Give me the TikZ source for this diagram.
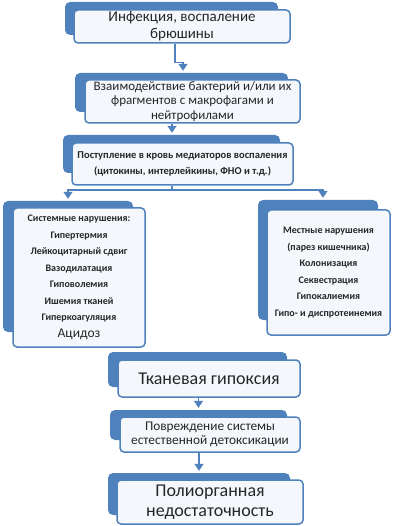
\documentclass[tikz,border=0pt]{standalone}
\usepackage{fontspec}
\setmainfont{Carlito}
\usetikzlibrary{arrows.meta, positioning}
\definecolor{tabblue}{HTML}{4F81BD}
\definecolor{cardfill}{HTML}{F4F7FB}

\begin{document}
\begin{tikzpicture}[x=1pt, y=-1pt, >={Triangle[width=9pt,length=7pt]},
  tab/.style={fill=tabblue, rounded corners=5pt, inner sep=0pt},
  card/.style={draw=tabblue, fill=cardfill, line width=1.5pt, rounded corners=4pt, inner sep=0pt, align=center, text=black!85},
  link/.style={draw=tabblue, line width=1.5pt, ->, shorten >=2pt},
  wire/.style={draw=tabblue, line width=1.5pt}]
\useasboundingbox (0,0) rectangle (404,526);
% Level 1: infection
\node[tab, minimum width=213pt, minimum height=33pt] (t1) at (171.5,18.5) {};
\node[card, minimum width=216pt, minimum height=33pt, font=\fontsize{15}{17}\selectfont] (b1) at (182,26.5) {Инфекция, воспаление\\брюшины};
% Level 2: interaction
\node[tab, minimum width=213pt, minimum height=39pt] (t2) at (181.5,92.5) {};
\node[card, minimum width=215pt, minimum height=43pt, font=\fontsize{13}{14.5}\selectfont] (b2) at (192.5,101.5) {Взаимодействие бактерий и/или их\\фрагментов с макрофагами и\\нейтрофилами};
% Level 3: mediators
\node[tab, minimum width=217pt, minimum height=38pt] (t3) at (171.5,154) {};
\node[card, minimum width=221pt, minimum height=42pt, font=\fontsize{10.5}{16}\selectfont\bfseries] (b3) at (182.5,164) {Поступление в кровь медиаторов воспаления\\(цитокины, интерлейкины, ФНО и т.д.)};
% Level 4: systemic and local disorders
\node[tab, minimum width=130pt, minimum height=131pt] (t4) at (68,266.5) {};
\node[card, minimum width=132pt, minimum height=139pt, font=\fontsize{10}{16.5}\selectfont\bfseries] (b4) at (79,277.5) {Системные нарушения:\\Гипертермия\\Лейкоцитарный сдвиг\\Вазодилатация\\Гиповолемия\\Ишемия тканей\\Гиперкоагуляция\\{\fontsize{13.5}{16.5}\selectfont\mdseries Ацидоз}};
\node[tab, minimum width=120pt, minimum height=120pt] (t5) at (318,260) {};
\node[card, minimum width=123pt, minimum height=125pt, font=\fontsize{10}{16.5}\selectfont\bfseries] (b5) at (328.5,272.5) {Местные нарушения\\(парез кишечника)\\Колонизация\\Секвестрация\\Гипокалиемия\\Гипо- и диспротеинемия};
% Level 5-7: outcome
\node[tab, minimum width=179pt, minimum height=35pt] (t6) at (197.5,369.5) {};
\node[card, minimum width=182pt, minimum height=37pt, font=\fontsize{18}{20}\selectfont] (b6) at (209,378.5) {Тканевая гипоксия};
\node[tab, minimum width=177pt, minimum height=30pt] (t7) at (198.5,425) {};
\node[card, minimum width=180pt, minimum height=35pt, font=\fontsize{13.3}{14}\selectfont] (b7) at (210,434.5) {Повреждение системы\\естественной детоксикации};
\node[tab, minimum width=182pt, minimum height=42pt] (t8) at (199,494) {};
\node[card, minimum width=186pt, minimum height=44pt, font=\fontsize{18}{20.5}\selectfont] (b8) at (210,502) {Полиорганная\\недостаточность};
% Connectors
\draw[link] ([xshift=-7pt]b1.south) -- ++(0,19) -| ([xshift=1.5pt]t2.north);
\draw[link] ([xshift=-20.5pt]b2.south) -- (t3.north -| 172,0);
\coordinate (fork) at (172,190);
\draw[wire] ([xshift=-10.5pt]b3.south) -- (fork);
\draw[link] (fork) -| (t4.north);
\draw[link] (fork) -| ([xshift=5pt]t5.north);
\draw[link] (b6.south -| t7.north) -- (t7.north);
\draw[link] (b7.south -| t8.north) -- (t8.north);
\end{tikzpicture}
\end{document}
